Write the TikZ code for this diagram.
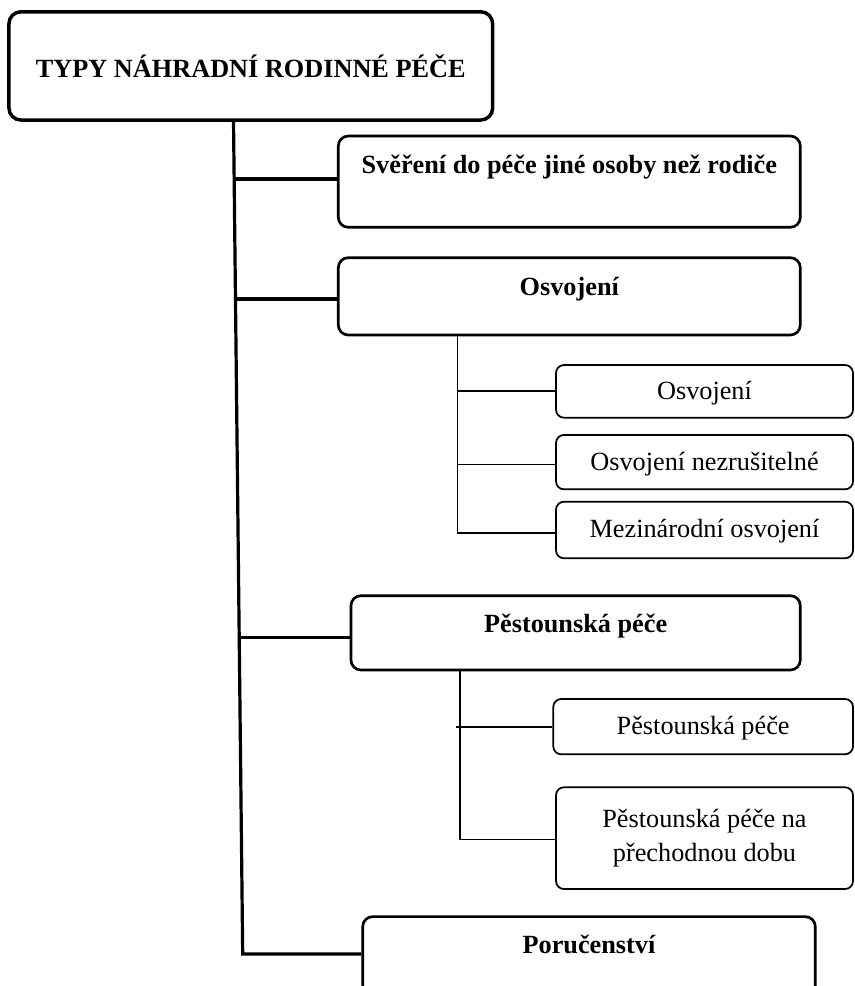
\documentclass[tikz,border=0pt]{standalone}
\usepackage{fontspec}
\setmainfont{Liberation Serif}
\begin{document}
\begin{tikzpicture}[x=0.75pt,y=-0.75pt,
  txt/.style={font=\fontsize{19.7pt}{25pt}\selectfont},
  mainbox/.style={draw, line width=2.6pt, rounded corners=9pt, inner sep=0pt, txt, font=\fontsize{19.7pt}{25pt}\selectfont\bfseries},
  bigbox/.style={draw, line width=2pt, rounded corners=7.5pt, inner sep=0pt, font=\fontsize{19.7pt}{25pt}\selectfont\bfseries},
  subbox/.style={draw, line width=1.3pt, rounded corners=6pt, inner sep=0pt, font=\fontsize{19.7pt}{25pt}\selectfont},
  trunk/.style={line width=2.4pt},
  subline/.style={line width=1.2pt}]
\useasboundingbox (0,0) rectangle (854,986);

% boxes
\node[mainbox, minimum width=362.8pt, text height=49.2pt, text depth=32pt] (main) at (250.8,65.9) {TYPY NÁHRADNÍ RODINNÉ PÉČE};
\node[bigbox, minimum width=346.5pt, text height=27.75pt, text depth=40.7pt] (care) at (569.3,181.65) {Svěření do péče jiné osoby než rodiče};
\node[bigbox, minimum width=346.5pt, text height=28pt, text depth=30pt] (osv) at (569.3,296.35) {Osvojení};
\node[subbox, minimum width=222.75pt, text height=25.5pt, text depth=14pt] (sa) at (704.5,391.35) {Osvojení};
\node[subbox, minimum width=222.75pt, text height=26.8pt, text depth=14pt] (sb) at (704.5,462.15) {Osvojení nezrušitelné};
\node[subbox, minimum width=222.75pt, text height=26.7pt, text depth=15.75pt] (sc) at (704.5,530) {Mezinárodní osvojení};
\node[bigbox, minimum width=337pt, text height=27.75pt, text depth=28pt] (pest) at (575.65,632.85) {Pěstounská péče};
\node[subbox, minimum width=224.8pt, text height=27pt, text depth=14.5pt] (pa) at (703.15,726.65) {Pěstounská péče};
\node[subbox, minimum width=222.75pt, minimum height=76.3pt, align=center] (pb) at (704.5,838.15) {Pěstounská péče na\\přechodnou dobu};
\node[bigbox, minimum width=339.45pt, text height=27.5pt, text depth=31.3pt] (por) at (589,955.85) {Poručenství};

% main trunk
\coordinate (t0) at (233.5,120);
\coordinate (t1) at (242.7,954);
\coordinate (b1) at (234,179);
\coordinate (b2) at (235.3,299);
\coordinate (b3) at (239.1,637.7);
\draw[trunk] (t0) -- (t1) -- (t1 -| por.west);
\draw[trunk] (b1) -- (b1 -| care.west);
\draw[trunk] (b2) -- (b2 -| osv.west);
\draw[trunk] (b3) -- (b3 -| pest.west);

% sub trunk 1
\coordinate (s0) at (457.3,335);
\coordinate (s1) at (457.3,532.7);
\coordinate (c1) at (457.3,390.7);
\coordinate (c2) at (457.3,464.3);
\draw[subline] (s0) -- (s1) -- (s1 -| sc.west);
\draw[subline] (c1) -- (c1 -| sa.west);
\draw[subline] (c2) -- (c2 -| sb.west);

% sub trunk 2
\coordinate (p0) at (460,670);
\coordinate (p1) at (460,839.3);
\coordinate (q1) at (456,726.7);
\draw[subline] (p0) -- (p1) -- (p1 -| pb.west);
\draw[subline] (q1) -- (q1 -| pa.west);
\end{tikzpicture}
\end{document}
